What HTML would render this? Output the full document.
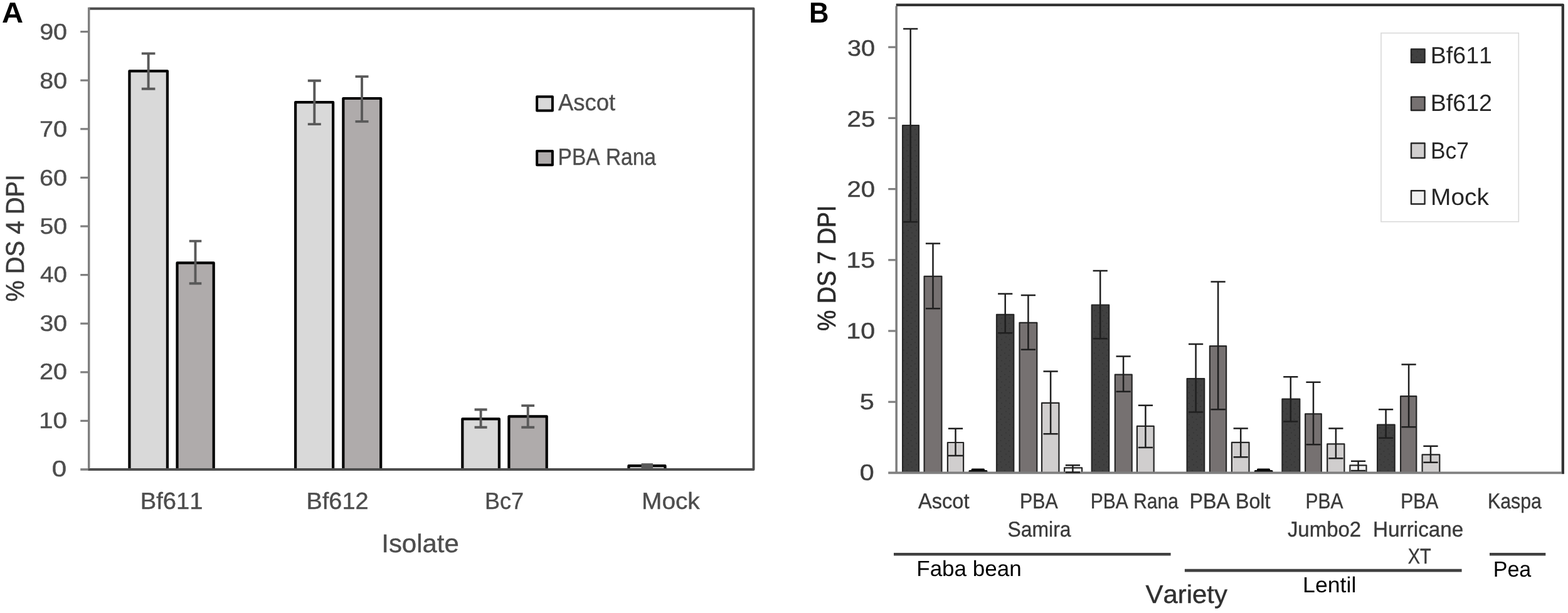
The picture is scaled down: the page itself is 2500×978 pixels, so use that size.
<!DOCTYPE html>
<html lang="en">
<head>
<meta charset="utf-8">
<title>Disease severity by isolate and variety</title>
<style>
html,body{margin:0;padding:0;background:#fff;}
body{width:2500px;height:978px;overflow:hidden;}
svg{display:block;font-family:"Liberation Sans",sans-serif;}
text{font-kerning:none;font-variant-ligatures:none;text-rendering:geometricPrecision;}
</style>
</head>
<body>
<svg width="2500" height="978" viewBox="0 0 2500 978" role="img" aria-label="Bar charts of disease severity">
<defs>
<pattern id="dots" width="13" height="17" patternUnits="userSpaceOnUse">
<rect width="13" height="17" fill="#404040"/>
<circle cx="3" cy="2.5" r="1.1" fill="#353535"/>
<circle cx="9.5" cy="6" r="1.1" fill="#353535"/>
<circle cx="5" cy="10.5" r="1.1" fill="#353535"/>
<circle cx="11" cy="14.5" r="1.1" fill="#353535"/>
</pattern>
</defs>
<rect width="2500" height="978" fill="#fff"/>
<g id="panel-a">
<path d="M206.4 749V113.3H266.9V749" fill="#d9d9d9" stroke="#000" stroke-width="4.2" stroke-linejoin="round"/>
<path d="M282.5 749V419.4H340.7V749" fill="#afabab" stroke="#000" stroke-width="4.2" stroke-linejoin="round"/>
<path d="M471.1 749V163.2H531.1V749" fill="#d9d9d9" stroke="#000" stroke-width="4.2" stroke-linejoin="round"/>
<path d="M547.3 749V157H607.2V749" fill="#afabab" stroke="#000" stroke-width="4.2" stroke-linejoin="round"/>
<path d="M737.3 749V668.4H795.9V749" fill="#d9d9d9" stroke="#000" stroke-width="4.2" stroke-linejoin="round"/>
<path d="M811.4 749V664.3H871.7V749" fill="#afabab" stroke="#000" stroke-width="4.2" stroke-linejoin="round"/>
<path d="M1002.4 749V743.2H1060.5V749" fill="#d9d9d9" stroke="#000" stroke-width="4.2" stroke-linejoin="round"/>
<path d="M141.7 13.7H1201.5V749H140.2" fill="none" stroke="#4d4d4d" stroke-width="3.9" stroke-linejoin="round"/>
<line x1="141.7" y1="11.8" x2="141.7" y2="747.5" stroke="#7f7f7f" stroke-width="3.5"/>
<line x1="128.2" y1="671.4" x2="141.7" y2="671.4" stroke="#7f7f7f" stroke-width="3.2"/>
<line x1="128.2" y1="593.8" x2="141.7" y2="593.8" stroke="#7f7f7f" stroke-width="3.2"/>
<line x1="128.2" y1="516.2" x2="141.7" y2="516.2" stroke="#7f7f7f" stroke-width="3.2"/>
<line x1="128.2" y1="438.6" x2="141.7" y2="438.6" stroke="#7f7f7f" stroke-width="3.2"/>
<line x1="128.2" y1="361" x2="141.7" y2="361" stroke="#7f7f7f" stroke-width="3.2"/>
<line x1="128.2" y1="283.4" x2="141.7" y2="283.4" stroke="#7f7f7f" stroke-width="3.2"/>
<line x1="128.2" y1="205.8" x2="141.7" y2="205.8" stroke="#7f7f7f" stroke-width="3.2"/>
<line x1="128.2" y1="128.2" x2="141.7" y2="128.2" stroke="#7f7f7f" stroke-width="3.2"/>
<line x1="128.2" y1="50.6" x2="141.7" y2="50.6" stroke="#7f7f7f" stroke-width="3.2"/>
<line x1="128.2" y1="749" x2="140.2" y2="749" stroke="#7f7f7f" stroke-width="3.6"/>
<path d="M225.8 85.4H247.4M225.8 141.8H247.4M236.6 85.4V141.8" stroke="#595959" stroke-width="3.9" fill="none"/>
<path d="M301.7 384.6H321.3M301.7 452.2H321.3M311.5 384.6V452.2" stroke="#595959" stroke-width="3.9" fill="none"/>
<path d="M490.8 128.7H511.8M490.8 198.1H511.8M501.3 128.7V198.1" stroke="#595959" stroke-width="3.9" fill="none"/>
<path d="M566.5 122.1H587.5M566.5 193.9H587.5M577 122.1V193.9" stroke="#595959" stroke-width="3.9" fill="none"/>
<path d="M756.6 653.5H776.6M756.6 681.8H776.6M766.6 653.5V681.8" stroke="#595959" stroke-width="3.9" fill="none"/>
<path d="M831.3 647.1H852.1M831.3 681.8H852.1M841.7 647.1V681.8" stroke="#595959" stroke-width="3.9" fill="none"/>
<rect x="1022.5" y="739.2" width="18.5" height="8.8" fill="#595959"/>
<text transform="translate(82.76 760) scale(1.1745 1)" font-size="35.8" fill="#4d4d4d" stroke="#4d4d4d" stroke-width="0.4">0</text>
<text transform="translate(61.91 682.6) scale(1.1346 1)" font-size="35.8" fill="#4d4d4d" stroke="#4d4d4d" stroke-width="0.4">10</text>
<text transform="translate(63.01 605.2) scale(1.1059 1)" font-size="35.8" fill="#4d4d4d" stroke="#4d4d4d" stroke-width="0.4">20</text>
<text transform="translate(63.51 527.8) scale(1.0929 1)" font-size="35.8" fill="#4d4d4d" stroke="#4d4d4d" stroke-width="0.4">30</text>
<text transform="translate(64.12 450.4) scale(1.0771 1)" font-size="35.8" fill="#4d4d4d" stroke="#4d4d4d" stroke-width="0.4">40</text>
<text transform="translate(63.43 373) scale(1.0949 1)" font-size="35.8" fill="#4d4d4d" stroke="#4d4d4d" stroke-width="0.4">50</text>
<text transform="translate(62.99 295.6) scale(1.1064 1)" font-size="35.8" fill="#4d4d4d" stroke="#4d4d4d" stroke-width="0.4">60</text>
<text transform="translate(62.97 218.2) scale(1.1070 1)" font-size="35.8" fill="#4d4d4d" stroke="#4d4d4d" stroke-width="0.4">70</text>
<text transform="translate(63.29 140.8) scale(1.0986 1)" font-size="35.8" fill="#4d4d4d" stroke="#4d4d4d" stroke-width="0.4">80</text>
<text transform="translate(63.15 63.4) scale(1.1022 1)" font-size="35.8" fill="#4d4d4d" stroke="#4d4d4d" stroke-width="0.4">90</text>
<text transform="translate(223.87 812.3) scale(1.0162 1)" font-size="37.5" fill="#4d4d4d" stroke="#4d4d4d" stroke-width="0.4">Bf611</text>
<text transform="translate(488.6 812.3) scale(1.0093 1)" font-size="37.5" fill="#4d4d4d" stroke="#4d4d4d" stroke-width="0.4">Bf612</text>
<text transform="translate(772.95 812.3) scale(0.9588 1)" font-size="37.5" fill="#4d4d4d" stroke="#4d4d4d" stroke-width="0.4">Bc7</text>
<text transform="translate(1023.12 812.3) scale(1.0338 1)" font-size="37.5" fill="#4d4d4d" stroke="#4d4d4d" stroke-width="0.4">Mock</text>
<text transform="translate(608.23 881.4) scale(1.0251 1)" font-size="40.9" fill="#4d4d4d" stroke="#4d4d4d" stroke-width="0.4">Isolate</text>
<text transform="translate(38 481.36) rotate(-90) scale(0.9297 1)" font-size="40.9" fill="#3a3a3a" stroke="#3a3a3a" stroke-width="0.6">% DS 4 DPI</text>
<rect x="856.1" y="154.3" width="24.8" height="22.3" fill="#d9d9d9" stroke="#000" stroke-width="4" stroke-linejoin="round"/>
<rect x="856.1" y="241.1" width="24.8" height="22.2" fill="#afabab" stroke="#000" stroke-width="4" stroke-linejoin="round"/>
<text transform="translate(890.03 176.3) scale(0.9707 1)" font-size="37.5" fill="#4d4d4d" stroke="#4d4d4d" stroke-width="0.4">Ascot</text>
<text transform="translate(889.55 263.1) scale(0.8935 1)" font-size="37.5" fill="#4d4d4d" stroke="#4d4d4d" stroke-width="0.4">PBA Rana</text>
<text transform="translate(3.12 36) scale(1.0272 1)" font-size="46" fill="#000" font-weight="bold">A</text>
</g>
<g id="panel-b">
<path d="M1439.1 754.4V200H1465V754.4" fill="url(#dots)" stroke="#262626" stroke-width="2.2" stroke-linejoin="round"/>
<path d="M1473.6 754.4V440.8H1501.4V754.4" fill="#767171" stroke="#262626" stroke-width="2.2" stroke-linejoin="round"/>
<path d="M1510.9 754.4V706H1536.1V754.4" fill="#d0cece" stroke="#262626" stroke-width="2.2" stroke-linejoin="round"/>
<path d="M1589 754.4V501.8H1616.3V754.4" fill="url(#dots)" stroke="#262626" stroke-width="2.2" stroke-linejoin="round"/>
<path d="M1625.5 754.4V514.8H1653.3V754.4" fill="#767171" stroke="#262626" stroke-width="2.2" stroke-linejoin="round"/>
<path d="M1661 754.4V642.9H1688.4V754.4" fill="#d0cece" stroke="#262626" stroke-width="2.2" stroke-linejoin="round"/>
<path d="M1697.1 754.4V746.4H1725.1V754.4" fill="#f2f2f2" stroke="#262626" stroke-width="2.2" stroke-linejoin="round"/>
<path d="M1740.7 754.4V486.5H1768.2V754.4" fill="url(#dots)" stroke="#262626" stroke-width="2.2" stroke-linejoin="round"/>
<path d="M1777.8 754.4V597.6H1804.7V754.4" fill="#767171" stroke="#262626" stroke-width="2.2" stroke-linejoin="round"/>
<path d="M1812.9 754.4V679.9H1839.7V754.4" fill="#d0cece" stroke="#262626" stroke-width="2.2" stroke-linejoin="round"/>
<path d="M1892.6 754.4V604.2H1920.2V754.4" fill="url(#dots)" stroke="#262626" stroke-width="2.2" stroke-linejoin="round"/>
<path d="M1928.9 754.4V552.1H1955.1V754.4" fill="#767171" stroke="#262626" stroke-width="2.2" stroke-linejoin="round"/>
<path d="M1963.9 754.4V705.8H1991.5V754.4" fill="#d0cece" stroke="#262626" stroke-width="2.2" stroke-linejoin="round"/>
<path d="M2044.4 754.4V636.6H2072.3V754.4" fill="url(#dots)" stroke="#262626" stroke-width="2.2" stroke-linejoin="round"/>
<path d="M2081.1 754.4V660.3H2106.8V754.4" fill="#767171" stroke="#262626" stroke-width="2.2" stroke-linejoin="round"/>
<path d="M2116.2 754.4V708.4H2143.4V754.4" fill="#d0cece" stroke="#262626" stroke-width="2.2" stroke-linejoin="round"/>
<path d="M2152.4 754.4V742.3H2178.5V754.4" fill="#f2f2f2" stroke="#262626" stroke-width="2.2" stroke-linejoin="round"/>
<path d="M2196.1 754.4V677.7H2223.7V754.4" fill="url(#dots)" stroke="#262626" stroke-width="2.2" stroke-linejoin="round"/>
<path d="M2233.1 754.4V632.2H2258.3V754.4" fill="#767171" stroke="#262626" stroke-width="2.2" stroke-linejoin="round"/>
<path d="M2267.6 754.4V725.4H2295.3V754.4" fill="#d0cece" stroke="#262626" stroke-width="2.2" stroke-linejoin="round"/>
<rect x="1544.4" y="749.9" width="30" height="4" rx="1.6" fill="#0a0a0a"/>
<rect x="1548.6" y="747.5" width="21.4" height="4" rx="1.6" fill="#0a0a0a"/>
<rect x="1999.8" y="749.9" width="29.7" height="4" rx="1.6" fill="#0a0a0a"/>
<rect x="2004" y="747.5" width="21.1" height="4" rx="1.6" fill="#0a0a0a"/>
<path d="M1428.7 7.8H2491.8V756.2" fill="none" stroke="#333" stroke-width="4.3" stroke-linejoin="round"/>
<line x1="1429.2" y1="9.8" x2="1429.2" y2="754.4" stroke="#808080" stroke-width="3.6"/>
<line x1="1416.2" y1="641.2" x2="1429.2" y2="641.2" stroke="#808080" stroke-width="3.2"/>
<line x1="1416.2" y1="528" x2="1429.2" y2="528" stroke="#808080" stroke-width="3.2"/>
<line x1="1416.2" y1="414.8" x2="1429.2" y2="414.8" stroke="#808080" stroke-width="3.2"/>
<line x1="1416.2" y1="301.6" x2="1429.2" y2="301.6" stroke="#808080" stroke-width="3.2"/>
<line x1="1416.2" y1="188.4" x2="1429.2" y2="188.4" stroke="#808080" stroke-width="3.2"/>
<line x1="1416.2" y1="75.2" x2="1429.2" y2="75.2" stroke="#808080" stroke-width="3.2"/>
<line x1="1416.2" y1="754.4" x2="2489.7" y2="754.4" stroke="#808080" stroke-width="3.8"/>
<path d="M1440.1 46H1463.3M1440.1 354.1H1463.3M1451.7 46V354.1" stroke="#1f1f1f" stroke-width="2.5" fill="none"/>
<path d="M1475.9 388.6H1499.1M1475.9 492.2H1499.1M1487.5 388.6V492.2" stroke="#1f1f1f" stroke-width="2.5" fill="none"/>
<path d="M1511.9 683.7H1535.1M1511.9 727H1535.1M1523.5 683.7V727" stroke="#1f1f1f" stroke-width="2.5" fill="none"/>
<path d="M1591.1 468.8H1614.3M1591.1 531.3H1614.3M1602.7 468.8V531.3" stroke="#1f1f1f" stroke-width="2.5" fill="none"/>
<path d="M1627.8 471H1651M1627.8 557.8H1651M1639.4 471V557.8" stroke="#1f1f1f" stroke-width="2.5" fill="none"/>
<path d="M1663.5 592.5H1686.7M1663.5 692.3H1686.7M1675.1 592.5V692.3" stroke="#1f1f1f" stroke-width="2.5" fill="none"/>
<path d="M1698.8 742.3H1722M1698.8 753.5H1722M1710.4 742.3V753.5" stroke="#1f1f1f" stroke-width="2.5" fill="none"/>
<path d="M1742.6 431.9H1765.8M1742.6 540.3H1765.8M1754.2 431.9V540.3" stroke="#1f1f1f" stroke-width="2.5" fill="none"/>
<path d="M1779.5 568.6H1802.7M1779.5 624.7H1802.7M1791.1 568.6V624.7" stroke="#1f1f1f" stroke-width="2.5" fill="none"/>
<path d="M1814.8 646.8H1838M1814.8 713.9H1838M1826.4 646.8V713.9" stroke="#1f1f1f" stroke-width="2.5" fill="none"/>
<path d="M1895 549H1918.2M1895 657.6H1918.2M1906.6 549V657.6" stroke="#1f1f1f" stroke-width="2.5" fill="none"/>
<path d="M1930.5 449.4H1953.7M1930.5 653.2H1953.7M1942.1 449.4V653.2" stroke="#1f1f1f" stroke-width="2.5" fill="none"/>
<path d="M1966.6 683.6H1989.8M1966.6 729.3H1989.8M1978.2 683.6V729.3" stroke="#1f1f1f" stroke-width="2.5" fill="none"/>
<path d="M2046.2 601.3H2069.4M2046.2 672.6H2069.4M2057.8 601.3V672.6" stroke="#1f1f1f" stroke-width="2.5" fill="none"/>
<path d="M2082.4 609.7H2105.6M2082.4 709.3H2105.6M2094 609.7V709.3" stroke="#1f1f1f" stroke-width="2.5" fill="none"/>
<path d="M2118.3 683.6H2141.5M2118.3 731.3H2141.5M2129.9 683.6V731.3" stroke="#1f1f1f" stroke-width="2.5" fill="none"/>
<path d="M2154 735.8H2177.2M2154 751H2177.2M2165.6 735.8V751" stroke="#1f1f1f" stroke-width="2.5" fill="none"/>
<path d="M2198 653.2H2221.2M2198 698.7H2221.2M2209.6 653.2V698.7" stroke="#1f1f1f" stroke-width="2.5" fill="none"/>
<path d="M2234.5 581.4H2257.7M2234.5 681.2H2257.7M2246.1 581.4V681.2" stroke="#1f1f1f" stroke-width="2.5" fill="none"/>
<path d="M2269.4 711.8H2292.6M2269.4 737.7H2292.6M2281 711.8V737.7" stroke="#1f1f1f" stroke-width="2.5" fill="none"/>
<text transform="translate(1370.69 765.5) scale(1.1511 1)" font-size="35.8" fill="#404040" stroke="#404040" stroke-width="0.4">0</text>
<text transform="translate(1370.64 652.7) scale(1.1606 1)" font-size="35.8" fill="#404040" stroke="#404040" stroke-width="0.4">5</text>
<text transform="translate(1349.36 539.9) scale(1.1514 1)" font-size="35.8" fill="#404040" stroke="#404040" stroke-width="0.4">10</text>
<text transform="translate(1349.35 427.1) scale(1.1548 1)" font-size="35.8" fill="#404040" stroke="#404040" stroke-width="0.4">15</text>
<text transform="translate(1350.48 314.3) scale(1.1223 1)" font-size="35.8" fill="#404040" stroke="#404040" stroke-width="0.4">20</text>
<text transform="translate(1350.47 201.5) scale(1.1255 1)" font-size="35.8" fill="#404040" stroke="#404040" stroke-width="0.4">25</text>
<text transform="translate(1350.99 88.7) scale(1.1091 1)" font-size="35.8" fill="#404040" stroke="#404040" stroke-width="0.4">30</text>
<text transform="translate(1332 527.94) rotate(-90) scale(0.9180 1)" font-size="40.9" fill="#2a2a2a" stroke="#2a2a2a" stroke-width="0.7">% DS 7 DPI</text>
<text transform="translate(1464.04 810.7) scale(0.9557 1)" font-size="34.1" fill="#3a3a3a" stroke="#3a3a3a" stroke-width="0.4">Ascot</text>
<text transform="translate(1626.01 810.7) scale(0.8888 1)" font-size="34.1" fill="#3a3a3a" stroke="#3a3a3a" stroke-width="0.4">PBA</text>
<text transform="translate(1606.55 856.3) scale(0.9355 1)" font-size="34.1" fill="#3a3a3a" stroke="#3a3a3a" stroke-width="0.4">Samira</text>
<text transform="translate(1738.84 810.7) scale(0.8803 1)" font-size="34.1" fill="#3a3a3a" stroke="#3a3a3a" stroke-width="0.4">PBA Rana</text>
<text transform="translate(1896.45 810.7) scale(0.9459 1)" font-size="34.1" fill="#3a3a3a" stroke="#3a3a3a" stroke-width="0.4">PBA Bolt</text>
<text transform="translate(2081.54 810.7) scale(0.8811 1)" font-size="34.1" fill="#3a3a3a" stroke="#3a3a3a" stroke-width="0.4">PBA</text>
<text transform="translate(2052.88 855.8) scale(0.9675 1)" font-size="34.1" fill="#3a3a3a" stroke="#3a3a3a" stroke-width="0.4">Jumbo2</text>
<text transform="translate(2233.34 810.7) scale(0.8796 1)" font-size="34.1" fill="#3a3a3a" stroke="#3a3a3a" stroke-width="0.4">PBA</text>
<text transform="translate(2188.97 855.8) scale(0.9776 1)" font-size="34.1" fill="#3a3a3a" stroke="#3a3a3a" stroke-width="0.4">Hurricane</text>
<text transform="translate(2244.75 899.2) scale(0.8495 1)" font-size="34.1" fill="#3a3a3a" stroke="#3a3a3a" stroke-width="0.4">XT</text>
<text transform="translate(2372.02 810.7) scale(0.8883 1)" font-size="34.1" fill="#3a3a3a" stroke="#3a3a3a" stroke-width="0.4">Kaspa</text>
<line x1="1425" y1="884.3" x2="1866.6" y2="884.3" stroke="#404040" stroke-width="4.6"/>
<line x1="1888.9" y1="910.1" x2="2330.6" y2="910.1" stroke="#404040" stroke-width="4.6"/>
<line x1="2375" y1="884.3" x2="2464.3" y2="884.3" stroke="#404040" stroke-width="4.6"/>
<text transform="translate(1461.23 919.3) scale(1.0011 1)" font-size="35" fill="#000">Faba bean</text>
<text transform="translate(2077.07 945.4) scale(1.0196 1)" font-size="35" fill="#000">Lentil</text>
<text transform="translate(2380.71 919.5) scale(0.9730 1)" font-size="35" fill="#000">Pea</text>
<text transform="translate(1826.42 962.4) scale(1.0257 1)" font-size="40.9" fill="#303030" stroke="#303030" stroke-width="0.4">Variety</text>
<rect x="2202" y="52.7" width="219.3" height="301" fill="#fff" stroke="#d9d9d9" stroke-width="1.6"/>
<rect x="2250" y="78.5" width="21.6" height="21.3" fill="url(#dots)" stroke="#262626" stroke-width="2.4" stroke-linejoin="round"/>
<rect x="2250" y="154.6" width="21.6" height="21.4" fill="#767171" stroke="#262626" stroke-width="2.4" stroke-linejoin="round"/>
<rect x="2250" y="228.5" width="21.6" height="23.5" fill="#d0cece" stroke="#262626" stroke-width="2.4" stroke-linejoin="round"/>
<rect x="2250" y="304.3" width="21.6" height="21.2" fill="#f2f2f2" stroke="#262626" stroke-width="2.4" stroke-linejoin="round"/>
<text transform="translate(2280.72 101) scale(1.0022 1)" font-size="37.5" fill="#262626">Bf611</text>
<text transform="translate(2280.72 177.2) scale(1.0028 1)" font-size="37.5" fill="#262626">Bf612</text>
<text transform="translate(2280.9 253.1) scale(0.9437 1)" font-size="37.5" fill="#262626">Bc7</text>
<text transform="translate(2281.11 326.5) scale(1.0361 1)" font-size="37.5" fill="#262626">Mock</text>
<text transform="translate(1290.08 36) scale(0.9482 1)" font-size="46" fill="#000" font-weight="bold">B</text>
</g>
</svg>
</body>
</html>
